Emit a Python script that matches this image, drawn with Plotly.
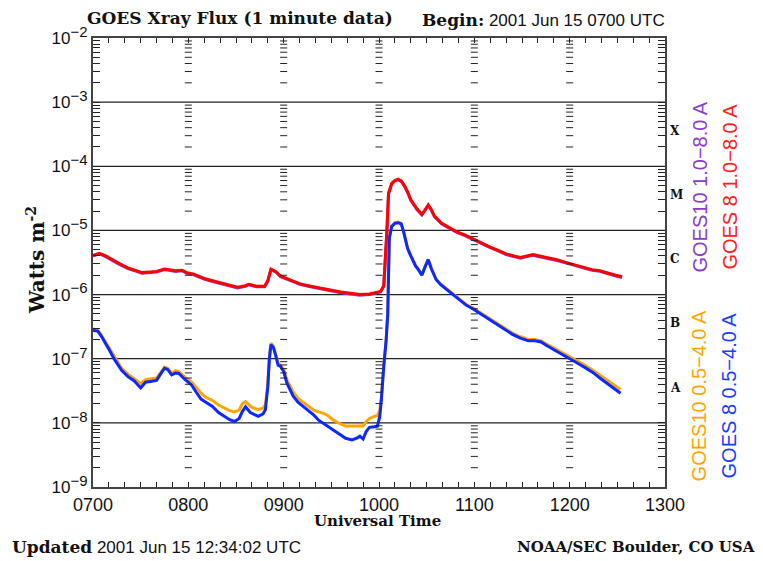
import pandas as pd
import plotly.graph_objects as go

# ---------------- data (minutes after 0700 UT, flux W m^-2) ----------------
t_long = [0, 4, 8, 12, 16, 22, 27, 31, 36, 40, 45, 49, 52, 56, 59, 63, 70, 77, 83, 91,
          96, 98, 103, 108, 110, 112, 115, 118, 124, 130, 137, 143, 150, 156, 162, 168,
          174, 179, 181, 183, 184, 185, 186, 188, 190, 192, 194, 196, 198, 200, 204,
          207, 209, 211, 213, 215, 219.5, 225, 229, 234, 239, 245, 250, 255, 260, 265,
          269, 273, 277, 281, 286, 292, 298, 303, 309, 314, 319, 324, 329, 333]
goes8_long = [4.1e-6, 4.4e-6, 4.0e-6, 3.5e-6, 3.1e-6, 2.6e-6, 2.4e-6, 2.2e-6, 2.25e-6,
              2.3e-6, 2.5e-6, 2.4e-6, 2.35e-6, 2.4e-6, 2.2e-6, 2.1e-6, 1.78e-6, 1.6e-6,
              1.45e-6, 1.3e-6, 1.38e-6, 1.45e-6, 1.35e-6, 1.35e-6, 1.65e-6, 2.5e-6,
              2.3e-6, 1.95e-6, 1.7e-6, 1.48e-6, 1.35e-6, 1.26e-6, 1.17e-6, 1.1e-6,
              1.05e-6, 1.0e-6, 1.02e-6, 1.07e-6, 1.12e-6, 1.38e-6, 3.5e-6, 1.0e-5,
              3.8e-5, 5.4e-5, 6.0e-5, 6.3e-5, 5.9e-5, 5.0e-5, 4.0e-5, 3.0e-5, 2.15e-5,
              1.78e-5, 2.1e-5, 2.5e-5, 2.1e-5, 1.66e-5, 1.29e-5, 1.07e-5, 9.5e-6,
              8.5e-6, 7.4e-6, 6.3e-6, 5.5e-6, 4.9e-6, 4.3e-6, 4.0e-6, 3.8e-6, 4.0e-6,
              4.2e-6, 4.0e-6, 3.8e-6, 3.5e-6, 3.15e-6, 2.9e-6, 2.6e-6, 2.45e-6,
              2.35e-6, 2.15e-6, 2.0e-6, 1.9e-6]
goes10_long = [4.0e-6, 4.3e-6, 3.9e-6, 3.4e-6, 3.0e-6, 2.55e-6, 2.35e-6, 2.15e-6, 2.2e-6,
               2.25e-6, 2.45e-6, 2.35e-6, 2.3e-6, 2.35e-6, 2.15e-6, 2.05e-6, 1.74e-6, 1.56e-6,
               1.42e-6, 1.27e-6, 1.35e-6, 1.42e-6, 1.32e-6, 1.32e-6, 1.6e-6, 2.45e-6,
               2.25e-6, 1.9e-6, 1.66e-6, 1.45e-6, 1.32e-6, 1.23e-6, 1.14e-6, 1.07e-6,
               1.02e-6, 0.98e-6, 1.0e-6, 1.05e-6, 1.1e-6, 1.35e-6, 3.4e-6, 9.8e-6,
               3.7e-5, 5.3e-5, 5.9e-5, 6.2e-5, 5.8e-5, 4.9e-5, 3.9e-5, 2.95e-5, 2.1e-5,
               1.75e-5, 2.05e-5, 2.45e-5, 2.05e-5, 1.63e-5, 1.26e-5, 1.05e-5, 9.3e-6,
               8.3e-6, 7.2e-6, 6.2e-6, 5.4e-6, 4.8e-6, 4.2e-6, 3.9e-6, 3.7e-6, 3.9e-6,
               4.1e-6, 3.9e-6, 3.7e-6, 3.4e-6, 3.1e-6, 2.85e-6, 2.55e-6, 2.4e-6,
               2.3e-6, 2.1e-6, 1.95e-6, 1.85e-6]

t_short = [0, 3, 5, 7.5, 10, 13, 15, 18, 22, 26, 30, 33, 36, 40, 43, 45, 47, 49.5, 52, 54,
           58, 62, 65, 68, 71, 75, 79, 83, 86, 89, 92, 94, 96, 99, 102, 104, 107, 108.5,
           110, 111, 112, 113.5, 115, 116.5, 118, 120, 122, 126, 129, 132, 136, 139, 142,
           145, 148, 151, 155, 159, 163, 166, 168, 170, 172, 174, 177, 179, 180.5, 181.5,
           183, 184.5, 185.5, 186.5, 188, 190, 192, 194, 195.5, 198, 200, 203, 205, 207,
           209, 211, 213, 216, 219, 223, 227, 231, 235, 239, 244, 249, 254, 259, 264,
           269, 274, 278, 282, 286, 291, 296, 300, 305, 310, 315, 319, 324, 328, 332]
goes8_short = [2.75e-7, 2.7e-7, 2.3e-7, 1.82e-7, 1.41e-7, 1.02e-7, 8.5e-8, 6.6e-8, 5.25e-8,
               4.5e-8, 3.5e-8, 4.3e-8, 4.4e-8, 4.6e-8, 6.0e-8, 7.1e-8, 6.8e-8, 5.6e-8,
               6.0e-8, 5.9e-8, 4.7e-8, 3.9e-8, 3.0e-8, 2.35e-8, 2.1e-8, 1.82e-8, 1.45e-8,
               1.26e-8, 1.12e-8, 1.05e-8, 1.17e-8, 1.5e-8, 1.78e-8, 1.45e-8, 1.32e-8,
               1.26e-8, 1.38e-8, 1.6e-8, 3.6e-8, 1.0e-7, 1.66e-7, 1.5e-7, 1.12e-7, 7.9e-8,
               7.6e-8, 6.3e-8, 4.2e-8, 2.6e-8, 2.1e-8, 1.82e-8, 1.5e-8, 1.32e-8, 1.1e-8,
               9.8e-9, 8.9e-9, 7.8e-9, 6.8e-9, 5.75e-9, 5.4e-9, 5.75e-9, 6.2e-9, 5.6e-9,
               7.4e-9, 8.5e-9, 8.7e-9, 8.9e-9, 1.26e-8, 2.3e-8, 7.6e-8, 1.95e-7, 5.0e-7,
               7.6e-6, 1.15e-5, 1.29e-5, 1.32e-5, 1.26e-5, 9.5e-6, 5.2e-6, 4.0e-6, 2.8e-6,
               2.4e-6, 2.0e-6, 2.7e-6, 3.5e-6, 2.5e-6, 1.7e-6, 1.41e-6, 1.17e-6, 9.8e-7,
               8.1e-7, 6.8e-7, 6.0e-7, 5.0e-7, 4.2e-7, 3.5e-7, 2.9e-7, 2.4e-7, 2.1e-7,
               1.9e-7, 1.9e-7, 1.82e-7, 1.58e-7, 1.35e-7, 1.15e-7, 1.02e-7, 8.5e-8,
               7.2e-8, 6.0e-8, 5.0e-8, 4.1e-8, 3.5e-8, 2.9e-8]
goes10_short = [2.9e-7, 2.8e-7, 2.4e-7, 1.9e-7, 1.48e-7, 1.1e-7, 9.1e-8, 7.1e-8, 5.75e-8,
                4.9e-8, 4.1e-8, 4.7e-8, 4.8e-8, 5.0e-8, 6.3e-8, 7.4e-8, 7.1e-8, 6.0e-8,
                6.5e-8, 6.3e-8, 5.1e-8, 4.3e-8, 3.55e-8, 2.9e-8, 2.5e-8, 2.25e-8, 1.9e-8,
                1.7e-8, 1.55e-8, 1.48e-8, 1.58e-8, 2.0e-8, 2.15e-8, 1.82e-8, 1.66e-8,
                1.62e-8, 1.7e-8, 1.9e-8, 4.0e-8, 1.05e-7, 1.74e-7, 1.58e-7, 1.17e-7, 8.5e-8,
                7.9e-8, 6.8e-8, 4.7e-8, 3.0e-8, 2.4e-8, 2.1e-8, 1.78e-8, 1.58e-8, 1.48e-8,
                1.41e-8, 1.29e-8, 1.12e-8, 9.8e-9, 8.9e-9, 8.9e-9, 8.9e-9, 8.9e-9, 8.9e-9,
                1.05e-8, 1.17e-8, 1.26e-8, 1.29e-8, 1.58e-8, 2.5e-8, 7.9e-8, 2.0e-7, 5.0e-7,
                7.6e-6, 1.17e-5, 1.32e-5, 1.35e-5, 1.29e-5, 9.7e-6, 5.3e-6, 4.1e-6, 2.85e-6,
                2.45e-6, 2.05e-6, 2.75e-6, 3.55e-6, 2.55e-6, 1.74e-6, 1.45e-6, 1.2e-6, 1.0e-6,
                8.3e-7, 7.0e-7, 6.2e-7, 5.2e-7, 4.35e-7, 3.6e-7, 3.0e-7, 2.5e-7, 2.2e-7,
                2.0e-7, 2.0e-7, 1.9e-7, 1.66e-7, 1.42e-7, 1.22e-7, 1.08e-7, 9.1e-8,
                7.8e-8, 6.5e-8, 5.5e-8, 4.6e-8, 3.9e-8, 3.3e-8]

hour_ticks = ["0700", "0800", "0900", "1000", "1100", "1200", "1300"]
decades = [-9, -8, -7, -6, -5, -4, -3, -2]
flare_classes = ["A", "B", "C", "M", "X"]
flare_class_levels = [-7.45, -6.45, -5.45, -4.45, -3.45]

# ---------------------------------------------------------------------------
t0 = pd.Timestamp("2001-06-15 07:00")
def to_time(mins):
    return [t0 + pd.Timedelta(minutes=m) for m in mins]

x_long = to_time(t_long)
x_short = to_time(t_short)

fig = go.Figure()
fig.add_trace(go.Scatter(x=x_long, y=goes10_long, mode="lines",
                         line=dict(color="#8a3ccf", width=3), name="GOES10 1.0-8.0 A"))
fig.add_trace(go.Scatter(x=x_long, y=goes8_long, mode="lines",
                         line=dict(color="#ff0000", width=3), name="GOES 8 1.0-8.0 A"))
fig.add_trace(go.Scatter(x=x_short, y=goes10_short, mode="lines",
                         line=dict(color="#ffa500", width=3), name="GOES10 0.5-4.0 A"))
fig.add_trace(go.Scatter(x=x_short, y=goes8_short, mode="lines",
                         line=dict(color="#0a28ff", width=3), name="GOES 8 0.5-4.0 A"))

# log tick positions
minor_vals = [m * 10.0 ** d for d in decades[:-1] for m in range(2, 10)]
y_tickvals = [10.0 ** d for d in decades] + minor_vals
y_ticktext = ['10<sup><span style="font-size:15px">−%d</span></sup>' % (-d) for d in decades] + [""] * len(minor_vals)

# tick columns drawn at each interior hour
col_x, col_y = [], []
for h in hour_ticks[1:-1]:
    ht = pd.Timestamp("2001-06-15 " + h[:2] + ":" + h[2:])
    for v in minor_vals:
        col_x.append(ht)
        col_y.append(v)
fig.add_trace(go.Scatter(x=col_x, y=col_y, mode="markers", hoverinfo="skip",
                         marker=dict(symbol="line-ew", size=5,
                                     line=dict(color="#222", width=1))))

# x ticks every 10 minutes, labelled on the hour
x_tick_mins = list(range(0, 361, 10))
x_tickvals = to_time(x_tick_mins)
x_ticktext = [hour_ticks[m // 60] if m % 60 == 0 else "" for m in x_tick_mins]

fig.update_xaxes(
    type="date",
    range=[t0, t0 + pd.Timedelta(hours=6)],
    tickmode="array",
    tickvals=x_tickvals,
    ticktext=x_ticktext,
    ticks="inside", ticklen=5, tickwidth=1, tickcolor="#222",
    showgrid=False, zeroline=False,
    showline=True, linecolor="#444", linewidth=2, mirror="allticks",
    tickfont=dict(family="Liberation Sans", size=18, color="#111"),
)
fig.update_yaxes(
    type="log",
    range=[-9, -2],
    tickmode="array",
    tickvals=y_tickvals,
    ticktext=y_ticktext,
    ticks="inside", ticklen=7, tickwidth=1, tickcolor="#222",
    showgrid=False, zeroline=False,
    showline=True, linecolor="#444", linewidth=2, mirror="allticks",
    tickfont=dict(family="Liberation Sans", size=17, color="#111"),
)

# decade grid lines
shapes = [dict(type="line", xref="paper", yref="y", x0=0, x1=1, y0=10.0 ** d, y1=10.0 ** d,
               line=dict(color="#222", width=1.2), layer="below")
          for d in decades[1:-1]]

ann = []
serif = "DejaVu Serif"
ann.append(dict(x=-0.014, y=1.044, xref="paper", yref="paper", xanchor="left", yanchor="middle",
                text="<b>GOES Xray Flux (1 minute data)</b>", showarrow=False,
                font=dict(family=serif, size=17, color="#111")))
ann.append(dict(x=0.5717, y=1.040, xref="paper", yref="paper", xanchor="left", yanchor="middle",
                text='<span style="font-family:DejaVu Serif"><b>Begin:</b></span> 2001 Jun 15 0700 UTC',
                showarrow=False, font=dict(family="Liberation Sans", size=17, color="#111")))
ann.append(dict(x=-0.10, y=0.505, xref="paper", yref="paper", xanchor="center", yanchor="middle",
                text="<b>Watts m<sup>-2</sup></b>", textangle=-90, showarrow=False,
                font=dict(family=serif, size=20, color="#111")))
ann.append(dict(x=0.498, y=-0.075, xref="paper", yref="paper", xanchor="center", yanchor="middle",
                text="<b>Universal Time</b>", showarrow=False,
                font=dict(family=serif, size=15, color="#111")))
ann.append(dict(x=-0.145, y=-0.133, xref="paper", yref="paper", xanchor="left", yanchor="middle",
                text='<span style="font-family:DejaVu Serif"><b>Updated</b></span> 2001 Jun 15 12:34:02 UTC',
                showarrow=False, font=dict(family="Liberation Sans", size=17, color="#111")))
ann.append(dict(x=1.161, y=-0.133, xref="paper", yref="paper", xanchor="right", yanchor="middle",
                text="<b>NOAA/SEC Boulder, CO USA</b>", showarrow=False,
                font=dict(family=serif, size=15, color="#111")))
for lab, lv in zip(flare_classes, flare_class_levels):
    ann.append(dict(x=1.0, y=lv, xref="paper", yref="y", xanchor="left", yanchor="middle",
                    xshift=3, text="<b>" + lab + "</b>", showarrow=False,
                    font=dict(family=serif, size=12, color="#111")))

legend_items = [("GOES10 1.0−8.0 A", "#8a3ccf", 1.061, 0.669),
                ("GOES 8 1.0−8.0 A", "#ff2020", 1.1136, 0.669),
                ("GOES10 0.5−4.0 A", "#ffa500", 1.061, 0.2038),
                ("GOES 8 0.5−4.0 A", "#1a3cff", 1.1136, 0.2038)]
for txt, col, xx, yy in legend_items:
    ann.append(dict(x=xx, y=yy, xref="paper", yref="paper", xanchor="center", yanchor="middle",
                    text=txt, textangle=-90, showarrow=False,
                    font=dict(family="Liberation Sans", size=20, color=col)))

# page body has an 8px margin, so the figure is 8px smaller and shifted
fig.update_layout(
    width=755, height=553,
    margin=dict(l=85, r=98, t=30, b=74),
    paper_bgcolor="white", plot_bgcolor="white",
    showlegend=False,
    annotations=ann,
    shapes=shapes,
)

fig.write_html("out.html")
